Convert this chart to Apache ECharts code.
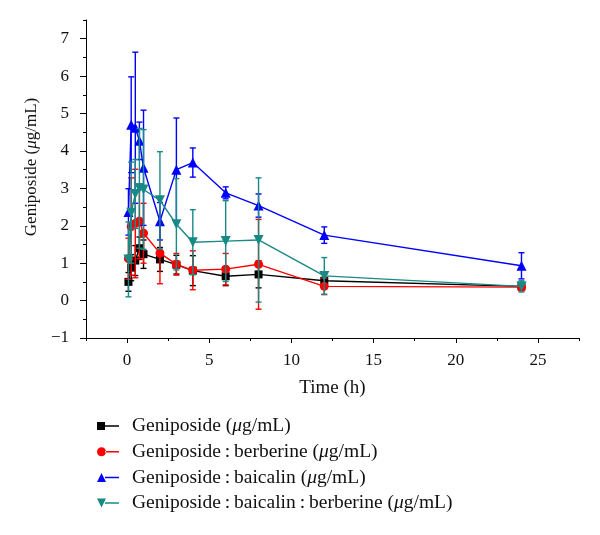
<!DOCTYPE html>
<html>
<head>
<meta charset="utf-8">
<script src="https://cdn.jsdelivr.net/npm/echarts@6/dist/echarts.min.js"></script>
<style>html,body{margin:0;padding:0;background:#fff;}#c{width:600px;height:535px;}</style>
</head>
<body>
<div id="c"></div>
<script>
// ---- data ----
const times = [0.083, 0.25, 0.5, 0.75, 1, 2, 3, 4, 6, 8, 12, 24];

const genMean = [0.50, 0.88, 1.07, 1.40, 1.24, 1.10, 0.96, 0.80, 0.65, 0.70, 0.53, 0.38];
const genErr  = [0.25, 0.35, 0.40, 0.30, 0.38, 0.32, 0.25, 0.40, 0.25, 0.36, 0.18, 0.10];

const berMean = [1.12, 1.98, 2.06, 2.12, 1.80, 1.27, 0.97, 0.81, 0.84, 0.97, 0.38, 0.36];
const berErr  = [0.55, 1.30, 1.45, 1.00, 0.80, 0.82, 0.29, 0.52, 0.42, 1.20, 0.22, 0.10];

const baiMean = [2.37, 4.70, 4.62, 4.27, 3.55, 2.12, 3.50, 3.69, 2.88, 2.54, 1.75, 0.93];
const baiErr  = [0.62, 1.28, 2.02, 0.50, 1.54, 0.50, 1.38, 0.39, 0.16, 0.31, 0.22, 0.35];

const bbMean  = [1.10, 2.35, 2.85, 3.00, 2.97, 2.68, 2.04, 1.56, 1.59, 1.62, 0.66, 0.38];
const bbErr   = [1.00, 1.35, 0.92, 1.60, 1.60, 1.30, 1.22, 0.87, 1.08, 1.66, 0.49, 0.15];

const xTicks = [0, 5, 10, 15, 20, 25];
const xMinorTicks = [-2.5, 2.5, 7.5, 12.5, 17.5, 22.5, 27.5];
const yTicks = [-1, 0, 1, 2, 3, 4, 5, 6, 7];
const yMinorTicks = [-0.5, 0.5, 1.5, 2.5, 3.5, 4.5, 5.5, 6.5, 7.5];

const seriesNames = [
  'Geniposide ({i|μ}g/mL)',
  'Geniposide\u2009:\u2009berberine ({i|μ}g/mL)',
  'Geniposide\u2009:\u2009baicalin ({i|μ}g/mL)',
  'Geniposide\u2009:\u2009baicalin\u2009:\u2009berberine ({i|μ}g/mL)'
];
// ---- end data ----

const FONT = '"Liberation Serif", "DejaVu Serif", serif';
const colors = ['#000000', '#ff0000', '#0000ff', '#178a86'];
const symbols = ['rect', 'circle', 'triangle', 'path://M0,0L10,0L5,9Z'];
const symSizes = [8, 9, 10, 10];
const legendIcons = [
  'path://M0,1h8v8h-8z M8,4.25h14v1.5h-14z',
  'path://M0,5a4.5,4.5 0 1,0 9,0a4.5,4.5 0 1,0 -9,0z M8,4.25h14v1.5h-14z',
  'path://M4.5,0.5L9,9.5H0z M8,4.25h14v1.5h-14z',
  'path://M0,0.5H9L4.5,9.5z M8,4.25h14v1.5h-14z'
];
const means = [genMean, berMean, baiMean, bbMean];
const errs = [genErr, berErr, baiErr, bbErr];

function errRender(color) {
  return function (params, api) {
    const x = api.value(0);
    const pLo = api.coord([x, api.value(1)]);
    const pHi = api.coord([x, api.value(2)]);
    const w = 3;
    const st = { stroke: color, lineWidth: 1.4 };
    return {
      type: 'group',
      children: [
        { type: 'line', shape: { x1: pLo[0], y1: pLo[1], x2: pHi[0], y2: pHi[1] }, style: st },
        { type: 'line', shape: { x1: pLo[0] - w, y1: pLo[1], x2: pLo[0] + w, y2: pLo[1] }, style: st },
        { type: 'line', shape: { x1: pHi[0] - w, y1: pHi[1], x2: pHi[0] + w, y2: pHi[1] }, style: st }
      ]
    };
  };
}

const series = [];
for (let k = 0; k < 4; k++) {
  series.push({
    name: 'err' + k,
    type: 'custom',
    xAxisIndex: 0, yAxisIndex: 0,
    renderItem: errRender(colors[k]),
    data: times.map((t, i) => [t, means[k][i] - errs[k][i], means[k][i] + errs[k][i]]),
    encode: { x: 0, y: [1, 2] },
    z: 2 + k * 2,
    silent: true
  });
  series.push({
    name: seriesNames[k],
    type: 'line',
    xAxisIndex: 0, yAxisIndex: 0,
    data: times.map((t, i) => [t, means[k][i]]),
    symbol: symbols[k],
    symbolSize: symSizes[k],
    showAllSymbol: true,
    lineStyle: { color: colors[k], width: 1.4 },
    itemStyle: { color: colors[k] },
    z: 3 + k * 2,
    animation: false
  });
}

const chart = echarts.init(document.getElementById('c'), null, { renderer: 'canvas' });
chart.setOption({
  animation: false,
  backgroundColor: '#ffffff',
  grid: { left: 86, right: 21, top: 20, bottom: 197, containLabel: false },
  legend: {
    orient: 'vertical',
    left: 92,
    top: 411,
    itemWidth: 22,
    itemHeight: 10,
    itemGap: 5.7,
    selectedMode: false,
    data: seriesNames.map((n, k) => ({ name: n, icon: legendIcons[k], itemStyle: { color: colors[k] } })),
    textStyle: {
      fontFamily: FONT, fontSize: 19.5, color: '#111', padding: [0, 0, 0, 8],
      rich: { i: { fontFamily: FONT, fontSize: 19.5, fontStyle: 'italic', color: '#111' } }
    }
  },
  xAxis: [{
    type: 'value',
    min: -2.5, max: 27.5,
    name: 'Time (h)',
    nameLocation: 'middle',
    nameGap: 41,
    nameTextStyle: { fontFamily: FONT, fontSize: 19, color: '#111' },
    axisLine: { show: true, onZero: false, lineStyle: { color: '#000', width: 1 } },
    axisTick: { show: true, length: 5, customValues: xTicks, lineStyle: { color: '#000' } },
    axisLabel: { customValues: xTicks, margin: 14, fontFamily: FONT, fontSize: 17, color: '#111' },
    splitLine: { show: false }
  }, {
    type: 'value',
    min: -2.5, max: 27.5,
    position: 'bottom',
    axisLine: { show: false, onZero: false },
    axisTick: { show: true, length: 3, customValues: xMinorTicks, lineStyle: { color: '#000' } },
    axisLabel: { show: false },
    splitLine: { show: false }
  }],
  yAxis: [{
    type: 'value',
    min: -1, max: 7.5,
    name: 'Geniposide ({i|μ}g/mL)',
    nameLocation: 'middle',
    nameGap: 46,
    nameTextStyle: {
      fontFamily: FONT, fontSize: 17, color: '#111', padding: [0, 0, 0, 24],
      rich: { i: { fontFamily: FONT, fontSize: 17, fontStyle: 'italic', color: '#111' } }
    },
    axisLine: { show: true, onZero: false, lineStyle: { color: '#000', width: 1 } },
    axisTick: { show: true, length: 6, customValues: yTicks, lineStyle: { color: '#000' } },
    axisLabel: { customValues: yTicks, margin: 17, fontFamily: FONT, fontSize: 17, color: '#111',
      formatter: v => (v < 0 ? '\u2212' + Math.abs(v) : String(v)) },
    splitLine: { show: false }
  }, {
    type: 'value',
    min: -1, max: 7.5,
    position: 'left',
    axisLine: { show: false, onZero: false },
    axisTick: { show: true, length: 3, customValues: yMinorTicks, lineStyle: { color: '#000' } },
    axisLabel: { show: false },
    splitLine: { show: false }
  }],
  series: series
});
</script>
</body>
</html>
